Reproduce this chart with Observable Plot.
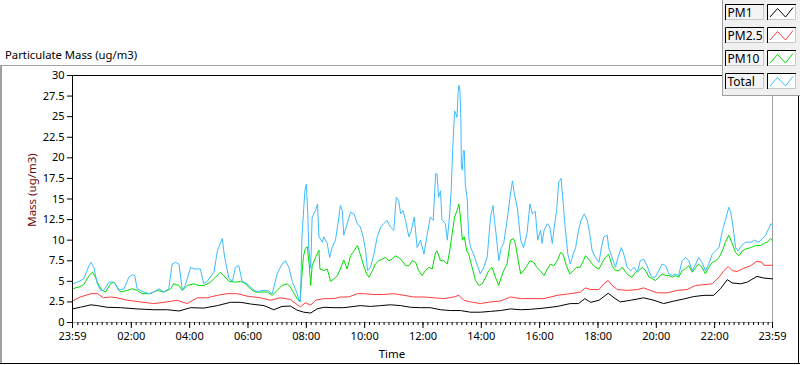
<!DOCTYPE html>
<html><head><meta charset="utf-8">
<script src="https://cdn.jsdelivr.net/npm/d3@7"></script>
<script src="https://cdn.jsdelivr.net/npm/@observablehq/plot@0.6"></script>
<style>
body{margin:0;background:#fff;}
#wrap{width:800px;height:365px;}
svg text{font-family:"Noto Sans",sans-serif;}
</style></head><body><div id="wrap"></div>
<script>
// ---- data (time = minutes after midnight; -1 = 23:59 previous day) ----
const seriesNames = ["PM1", "PM2.5", "PM10", "Total"];
const seriesColors = ["#000000", "#ff3c3c", "#00dd00", "#3cbcff"];

const pm1Data = [[-1,1.65],[15,1.85],[37,2.15],[50,2.05],[70,1.85],[98,1.8],[132,1.65],[166,1.55],[194,1.55],[218,1.4],[242,1.8],[269,1.75],[297,2.05],[324,2.45],[345,2.45],[365,2.25],[393,2.05],[413,1.55],[430,1.95],[447,2.0],[461,1.5],[475,1.25],[489,1.15],[502,1.65],[516,1.85],[537,1.8],[557,1.8],[578,1.95],[591,2.05],[612,1.95],[633,2.05],[653,2.15],[674,2.05],[694,1.85],[715,1.8],[735,1.8],[756,1.55],[777,1.45],[797,1.45],[818,1.25],[838,1.25],[859,1.35],[879,1.45],[900,1.65],[921,1.55],[941,1.6],[969,1.75],[996,1.95],[1023,2.3],[1040,2.3],[1053,2.9],[1065,2.45],[1082,2.7],[1101,3.55],[1113,3.0],[1126,2.5],[1147,2.7],[1174,3.0],[1195,2.7],[1215,2.3],[1236,2.6],[1256,2.85],[1277,3.15],[1298,3.3],[1318,3.3],[1332,4.1],[1346,5.2],[1356,4.8],[1373,4.7],[1387,4.9],[1407,5.6],[1421,5.4],[1439,5.3]];

const pm25Data = [[-1,2.6],[15,3.1],[37,3.5],[50,3.5],[63,3.0],[77,3.1],[91,3.0],[112,2.7],[139,2.5],[166,2.3],[194,2.5],[214,2.7],[235,2.3],[256,3.0],[276,3.0],[297,3.3],[317,3.5],[338,3.5],[358,3.2],[386,3.0],[406,2.7],[427,3.0],[447,2.8],[465,2.0],[468,1.9],[478,2.4],[489,2.1],[499,2.7],[516,2.9],[537,2.9],[550,3.1],[567,3.1],[585,3.5],[598,3.5],[619,3.4],[639,3.4],[660,3.5],[681,3.3],[701,3.1],[722,3.1],[742,3.0],[763,2.9],[783,3.1],[794,3.3],[804,2.7],[818,2.5],[838,2.3],[859,2.5],[879,2.6],[900,3.1],[921,2.9],[941,2.9],[969,2.9],[996,3.3],[1023,3.5],[1044,3.7],[1054,4.2],[1065,4.0],[1082,4.0],[1092,4.7],[1101,5.1],[1109,4.5],[1120,4.0],[1140,3.9],[1161,4.0],[1174,4.2],[1188,3.9],[1202,3.6],[1222,3.6],[1243,3.9],[1263,4.0],[1281,4.5],[1298,4.6],[1315,4.7],[1329,5.5],[1339,6.3],[1348,6.8],[1356,6.3],[1366,6.2],[1380,6.6],[1394,6.9],[1407,7.45],[1418,7.3],[1421,6.95],[1439,6.95]];

const pm10Data = [[-1,4.1],[12,4.3],[22,4.6],[33,5.7],[40,6.1],[46,5.5],[53,4.5],[60,3.9],[67,3.7],[77,4.7],[84,4.9],[91,4.3],[98,3.7],[112,3.9],[122,4.1],[132,3.9],[142,3.5],[159,3.5],[173,3.9],[187,3.7],[201,4.1],[207,4.7],[218,4.5],[225,3.9],[235,4.5],[249,4.7],[259,4.5],[270,4.5],[283,4.9],[293,5.5],[303,6.1],[310,5.7],[321,5.0],[334,4.9],[345,5.0],[355,4.7],[365,4.1],[375,3.7],[386,3.7],[400,3.7],[410,3.3],[420,3.9],[430,4.5],[441,4.7],[447,4.3],[454,3.6],[461,2.9],[467,2.5],[470,5.0],[474,8.0],[478,9.0],[482,9.2],[486,7.0],[489,4.5],[492,6.9],[499,7.9],[506,8.8],[508,6.5],[516,6.3],[523,6.5],[530,5.0],[537,5.3],[544,5.7],[550,6.5],[557,7.6],[564,6.5],[571,8.1],[578,8.7],[585,9.35],[591,8.3],[597,7.1],[604,5.9],[609,5.5],[616,6.3],[622,7.1],[629,7.5],[636,7.7],[643,7.9],[650,7.5],[657,7.7],[663,8.1],[670,7.9],[677,7.5],[684,6.9],[691,6.9],[698,7.5],[705,7.3],[711,6.3],[718,5.7],[725,6.3],[732,6.7],[739,6.5],[746,8.5],[749,8.7],[756,7.5],[763,7.5],[770,7.1],[775,8.7],[780,10.8],[785,12.8],[790,13.6],[794,14.4],[797,12.8],[801,10.0],[805,10.4],[810,8.7],[814,8.3],[821,6.7],[828,5.1],[835,4.5],[842,4.7],[849,5.5],[855,6.3],[862,6.7],[869,5.5],[876,4.5],[881,5.5],[886,6.3],[893,7.1],[900,10.0],[906,10.2],[910,9.6],[916,7.5],[921,5.9],[927,6.3],[934,6.9],[940,7.5],[948,7.3],[954,6.7],[961,6.3],[969,5.7],[976,6.5],[982,7.1],[989,6.9],[996,7.5],[1003,8.5],[1008,8.3],[1015,6.9],[1022,5.9],[1029,6.3],[1036,6.7],[1043,6.7],[1050,7.5],[1054,8.1],[1061,7.7],[1068,7.1],[1075,6.7],[1082,6.5],[1089,7.3],[1095,7.9],[1102,8.3],[1109,6.9],[1116,6.3],[1123,6.3],[1130,6.7],[1137,6.1],[1143,5.7],[1150,5.5],[1157,6.1],[1164,6.3],[1171,6.7],[1178,6.3],[1185,5.5],[1192,5.3],[1198,5.1],[1205,5.5],[1212,5.9],[1219,5.7],[1226,5.7],[1233,5.5],[1239,5.7],[1246,5.5],[1253,6.3],[1260,6.5],[1267,6.9],[1274,6.1],[1281,6.7],[1287,7.1],[1294,6.7],[1301,5.9],[1308,6.7],[1315,7.3],[1322,7.5],[1329,7.9],[1336,8.7],[1342,9.75],[1349,10.6],[1355,9.75],[1363,8.5],[1370,8.1],[1377,8.7],[1383,8.9],[1394,9.1],[1404,9.35],[1414,9.35],[1421,9.6],[1428,9.75],[1435,10.2],[1439,10.0]];

const totalData = [[-1,4.7],[9,4.9],[22,5.3],[33,6.9],[37,7.3],[43,6.7],[50,4.7],[57,3.9],[63,3.9],[74,4.9],[81,4.95],[87,4.7],[94,3.9],[105,4.1],[115,5.5],[122,5.8],[127,5.7],[132,4.1],[146,3.7],[156,3.5],[166,3.7],[177,4.1],[187,3.7],[197,4.1],[204,7.1],[211,7.3],[218,7.1],[225,3.9],[231,4.5],[242,6.7],[249,6.5],[256,6.5],[262,6.5],[269,4.7],[276,5.0],[290,6.1],[297,8.7],[303,9.6],[307,10.2],[312,7.9],[321,5.3],[328,5.0],[334,6.7],[341,6.9],[348,5.0],[358,4.7],[369,4.1],[379,3.7],[389,3.9],[400,3.9],[410,3.5],[420,5.9],[430,7.1],[437,7.5],[444,6.7],[451,5.0],[461,3.5],[465,2.7],[468,2.6],[471,10.4],[477,16.0],[480,16.8],[483,13.2],[485,9.0],[489,6.6],[492,12.8],[499,13.6],[503,14.4],[506,10.4],[513,9.75],[516,10.4],[523,9.6],[528,7.9],[533,9.1],[540,10.0],[547,12.8],[550,14.2],[554,13.6],[557,10.6],[564,12.0],[571,13.4],[578,13.2],[585,12.0],[591,11.6],[597,10.4],[602,8.7],[606,6.3],[612,6.7],[619,8.3],[626,10.4],[633,11.6],[639,12.0],[646,12.4],[653,11.6],[660,11.2],[665,15.2],[670,14.8],[674,13.2],[679,13.6],[684,12.4],[691,10.4],[696,11.2],[702,12.8],[708,9.1],[715,10.0],[722,8.3],[729,10.8],[735,12.8],[741,12.4],[746,18.1],[749,18.0],[752,15.2],[756,16.0],[759,12.5],[766,12.0],[770,10.0],[775,13.2],[778,16.0],[781,20.9],[785,25.7],[788,25.3],[790,24.9],[792,27.8],[794,28.8],[796,28.2],[798,24.5],[799,18.9],[801,18.5],[803,20.9],[805,20.9],[807,16.8],[811,15.0],[814,10.4],[818,9.1],[824,8.3],[831,7.1],[838,5.9],[845,6.7],[852,7.9],[859,12.8],[864,14.2],[867,12.4],[871,10.4],[876,7.5],[881,9.1],[886,9.6],[893,12.4],[899,15.2],[904,17.2],[908,15.6],[914,14.0],[921,10.0],[927,9.1],[934,10.8],[940,14.4],[945,13.2],[951,13.5],[956,10.0],[962,11.2],[965,9.6],[969,11.2],[976,12.0],[981,11.6],[986,9.6],[991,12.0],[995,13.6],[999,17.0],[1004,17.5],[1008,14.8],[1013,11.2],[1018,8.3],[1023,7.1],[1029,8.3],[1034,9.1],[1040,11.2],[1045,12.4],[1052,13.2],[1058,12.4],[1063,10.8],[1068,8.7],[1075,7.9],[1082,7.3],[1087,9.1],[1092,10.4],[1099,10.6],[1102,9.1],[1109,7.9],[1116,6.7],[1121,7.9],[1128,9.1],[1133,8.3],[1140,6.7],[1147,6.3],[1154,6.7],[1161,6.1],[1167,7.5],[1174,7.7],[1181,6.9],[1187,5.9],[1192,5.5],[1198,5.5],[1205,6.3],[1212,7.1],[1219,6.9],[1226,5.9],[1233,5.7],[1239,5.9],[1246,5.7],[1253,7.5],[1260,7.9],[1267,7.5],[1274,6.3],[1281,7.1],[1287,7.9],[1294,7.3],[1301,6.3],[1308,7.1],[1315,8.3],[1322,8.7],[1329,9.1],[1336,11.2],[1342,12.4],[1349,14.0],[1353,13.4],[1358,11.6],[1363,9.1],[1368,8.7],[1375,9.3],[1383,9.75],[1394,9.75],[1402,10.0],[1411,9.75],[1418,10.2],[1425,10.6],[1431,11.4],[1436,12.0],[1439,11.8]];

const yTicks = [0, 2.5, 5, 7.5, 10, 12.5, 15, 17.5, 20, 22.5, 25, 27.5, 30];
const xTickMinutes = [-1, 120, 240, 360, 480, 600, 720, 840, 960, 1080, 1200, 1320, 1439];
const xTickLabels = ["23:59", "02:00", "04:00", "06:00", "08:00", "10:00", "12:00", "14:00", "16:00", "18:00", "20:00", "22:00", "23:59"];
const xMinorTicks = d3.range(10, 1440, 10);

const chartTitle = "Particulate Mass (ug/m3)";
const yLabel = "Mass (ug/m3)";
const xLabel = "Time";

// ---- build ----
const allSeries = [pm1Data, pm25Data, pm10Data, totalData];
const rows = allSeries.flatMap((s, k) => s.map(([t, v]) => ({series: seriesNames[k], t, v})));
const labelOf = new Map(xTickMinutes.map((m, i) => [m, xTickLabels[i]]));

const svg = Plot.plot({
  width: 800, height: 365,
  marginLeft: 72, marginRight: 28, marginTop: 75, marginBottom: 43,
  style: {fontFamily: "Noto Sans, sans-serif", fontSize: "11px", background: "#ffffff", color: "#000"},
  x: {domain: [-1, 1439]},
  y: {domain: [0, 30]},
  color: {domain: seriesNames, range: seriesColors},
  marks: [
    Plot.ruleY([30], {stroke: "#000"}),
    Plot.ruleY([0], {stroke: "#a0a0a0"}),
    Plot.ruleX([1439], {stroke: "#a0a0a0"}),
    Plot.line(rows, {x: "t", y: "v", z: "series", stroke: "series", strokeWidth: 1, strokeLinejoin: "miter"}),
    Plot.ruleX([-1], {stroke: "#000"}),
    Plot.axisY({ticks: yTicks, tickSize: 5, tickPadding: 3, tickFormat: d => String(d), label: null}),
    Plot.axisX({ticks: xMinorTicks, tickSize: 3, tickFormat: () => "", label: null}),
    Plot.axisX({ticks: xTickMinutes, tickSize: 6, tickPadding: 4, tickFormat: d => labelOf.get(d), label: null})
  ]
});
document.getElementById("wrap").appendChild(svg);

const s = d3.select(svg);
// panel frame
s.append("line").attr("x1", 0).attr("x2", 722).attr("y1", 65.5).attr("y2", 65.5).attr("stroke", "#a0a0a0");
s.append("line").attr("x1", 1).attr("x2", 1).attr("y1", 65).attr("y2", 364).attr("stroke", "#a0a0a0").attr("stroke-width", 2);
s.append("line").attr("x1", 0).attr("x2", 800).attr("y1", 363.5).attr("y2", 363.5).attr("stroke", "#000");
s.append("line").attr("x1", 798.5).attr("x2", 798.5).attr("y1", 95).attr("y2", 364).attr("stroke", "#000");
// texts
s.append("text").attr("x", 5).attr("y", 59).attr("text-anchor", "start").attr("font-size", 11.3).attr("fill", "#000").text(chartTitle);
s.append("text").attr("transform", "translate(36,190) rotate(-90)").attr("text-anchor", "middle")
  .attr("font-size", 11.5).attr("fill", "#6e0a0a").text(yLabel);
s.append("text").attr("x", 392).attr("y", 358).attr("text-anchor", "middle").attr("font-size", 11.5).attr("fill", "#000").text(xLabel);
// legend
const lg = s.append("g").attr("text-anchor", "start");
lg.append("rect").attr("x", 722).attr("y", 0).attr("width", 78).attr("height", 96).attr("fill", "#f0f0f0");
lg.append("line").attr("x1", 722.5).attr("x2", 722.5).attr("y1", 0).attr("y2", 96).attr("stroke", "#a0a0a0");
lg.append("line").attr("x1", 722).attr("x2", 800).attr("y1", 95.5).attr("y2", 95.5).attr("stroke", "#a0a0a0");
seriesNames.forEach((name, i) => {
  const top = 4 + 23 * i;
  const g = lg.append("g").attr("transform", `translate(0,${top})`);
  const box = (x, w, fill) => {
    g.append("rect").attr("x", x).attr("y", 0).attr("width", w).attr("height", 16).attr("fill", fill);
    g.append("path").attr("d", `M${x + 0.5},16 V0.5 H${x + w}`).attr("fill", "none").attr("stroke", "#000");
    g.append("path").attr("d", `M${x + w - 0.5},1 V15.5 H${x + 1}`).attr("fill", "none").attr("stroke", "#c8c8c8");
  };
  box(725, 39, "#f4f4f4");
  box(767, 29, "#ffffff");
  g.append("text").attr("x", 727.5).attr("y", 12.5).attr("text-anchor", "start").attr("font-size", 12).attr("fill", "#000").text(name);
  g.append("path").attr("d", "M770,13 L777.5,4.5 L785.5,13 L793,3.5").attr("fill", "none").attr("stroke", seriesColors[i]);
});
</script></body></html>
